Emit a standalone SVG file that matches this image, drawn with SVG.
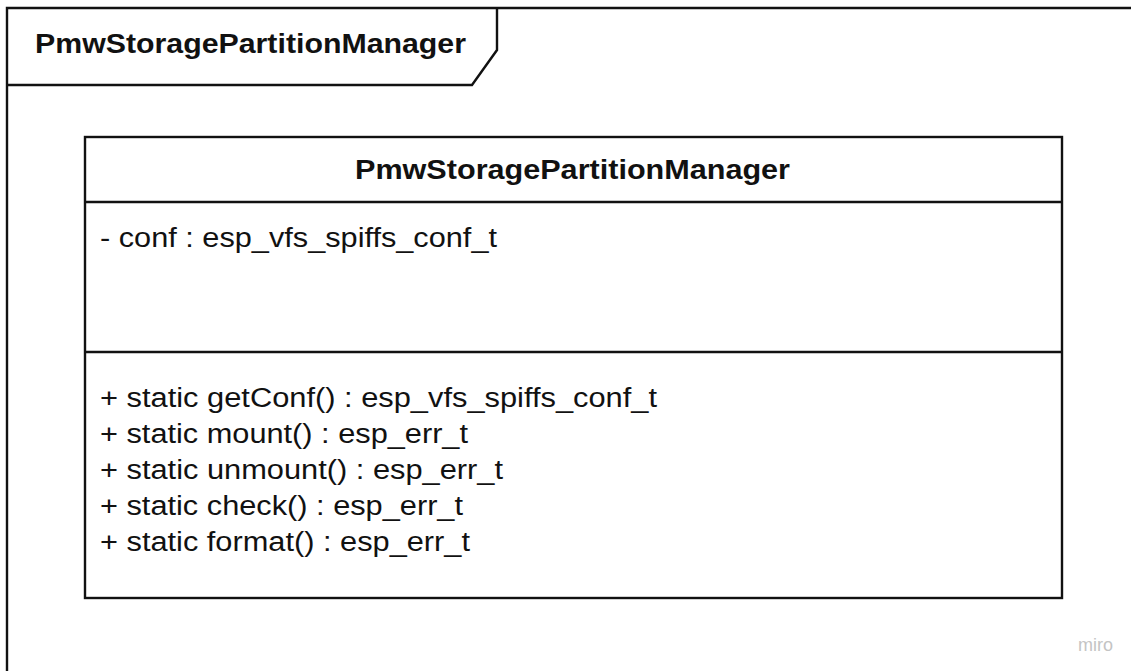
<svg xmlns="http://www.w3.org/2000/svg" width="1131" height="671" viewBox="0 0 1131 671">
<style>
.ln{fill:none;stroke:#111111;stroke-width:2.4}
.t{font-family:"Liberation Sans",Arial,sans-serif;fill:#111111}
.b{font-weight:bold;font-size:27px}
.r{font-size:27px}
.wm{font-family:"Liberation Sans",Arial,sans-serif;font-size:18px;fill:#c4c4c4}
</style>
<rect width="1131" height="671" fill="#ffffff"/>
<g id="frame">
<path class="ln" d="M7,671 V8 H1131"/>
<path class="ln" d="M7,85 H472 L497,50 V8"/>
<text class="t b" x="35" y="53" textLength="431" lengthAdjust="spacingAndGlyphs">PmwStoragePartitionManager</text>
</g>
<g id="class-PmwStoragePartitionManager">
<rect class="ln" x="85" y="137" width="977" height="461" fill="#ffffff"/>
<line class="ln" x1="85" y1="202" x2="1062" y2="202"/>
<line class="ln" x1="85" y1="352" x2="1062" y2="352"/>
<text class="t b" x="355" y="179" textLength="435" lengthAdjust="spacingAndGlyphs">PmwStoragePartitionManager</text>
<text class="t r" x="100" y="247" textLength="397" lengthAdjust="spacingAndGlyphs">- conf : esp_vfs_spiffs_conf_t</text>
<text class="t r" x="100" y="407" textLength="557" lengthAdjust="spacingAndGlyphs">+ static getConf() : esp_vfs_spiffs_conf_t</text>
<text class="t r" x="100" y="443" textLength="368" lengthAdjust="spacingAndGlyphs">+ static mount() : esp_err_t</text>
<text class="t r" x="100" y="479" textLength="403" lengthAdjust="spacingAndGlyphs">+ static unmount() : esp_err_t</text>
<text class="t r" x="100" y="515" textLength="363" lengthAdjust="spacingAndGlyphs">+ static check() : esp_err_t</text>
<text class="t r" x="100" y="551" textLength="370" lengthAdjust="spacingAndGlyphs">+ static format() : esp_err_t</text>
</g>
<g id="connectors"/>
<text class="wm" x="1078" y="651" textLength="35" lengthAdjust="spacingAndGlyphs">miro</text>
</svg>
